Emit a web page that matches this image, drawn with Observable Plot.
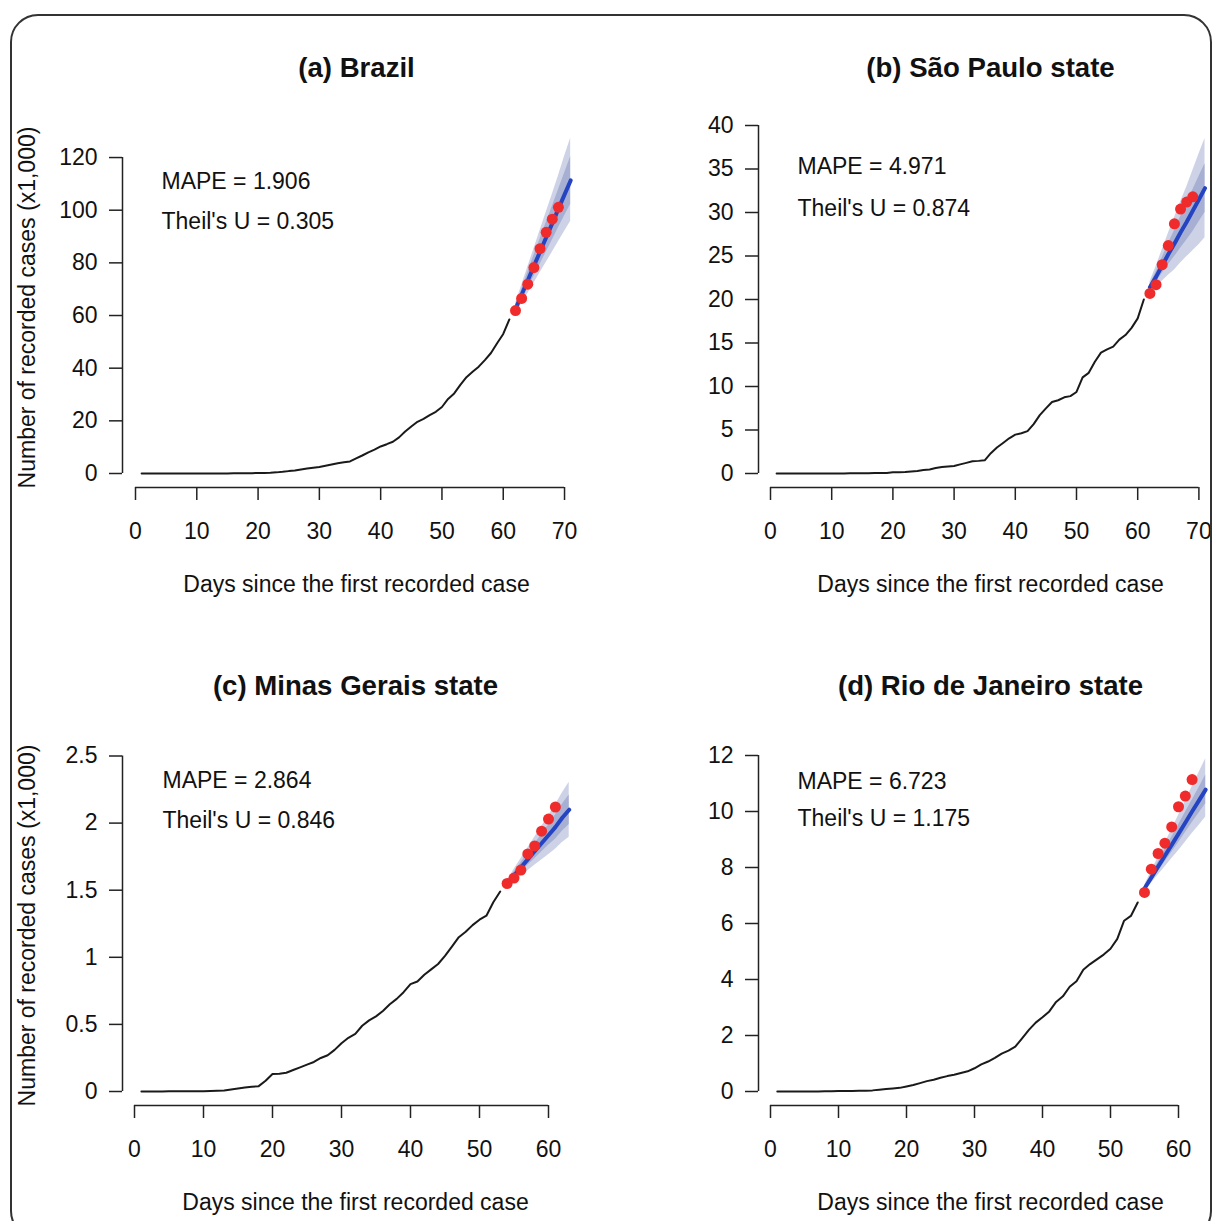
<!DOCTYPE html>
<html><head><meta charset="utf-8">
<script src="https://cdn.jsdelivr.net/npm/d3@7"></script>
<script src="https://cdn.jsdelivr.net/npm/@observablehq/plot@0.6"></script>
<style>
html,body{margin:0;padding:0;background:#fff;}
#page{position:relative;width:1213px;height:1221px;overflow:hidden;font-family:"Liberation Sans",Arial,sans-serif;background:#fff;}
#border{position:absolute;left:10px;top:14px;width:1202px;height:1225px;border:2px solid #333;border-radius:28px;box-sizing:border-box;z-index:5;pointer-events:none;}
</style></head>
<body><div id="page"><div id="border"></div></div>
<script>
// ---------- data (thousands of recorded cases) ----------
const titles = ["(a) Brazil", "(b) São Paulo state", "(c) Minas Gerais state", "(d) Rio de Janeiro state"];
const mapeLabels = ["MAPE = 1.906", "MAPE = 4.971", "MAPE = 2.864", "MAPE = 6.723"];
const theilLabels = ["Theil's U = 0.305", "Theil's U = 0.874", "Theil's U = 0.846", "Theil's U = 1.175"];
const xLabel = "Days since the first recorded case";
const yLabel = "Number of recorded cases (x1,000)";

const xTicks70 = [0, 10, 20, 30, 40, 50, 60, 70];
const xTicks60 = [0, 10, 20, 30, 40, 50, 60];
const yTicksBR = [0, 20, 40, 60, 80, 100, 120];
const yTicksSP = [0, 5, 10, 15, 20, 25, 30, 35, 40];
const yTicksMG = [0, 0.5, 1, 1.5, 2, 2.5];
const yTicksRJ = [0, 2, 4, 6, 8, 10, 12];

// observed series, day 1 onwards
const obsBR = [0, 0.001, 0.001, 0.001, 0.002, 0.002, 0.002, 0.002, 0.003, 0.008, 0.013, 0.019, 0.025, 0.025, 0.034, 0.052, 0.077, 0.098, 0.121, 0.200, 0.234, 0.291, 0.428, 0.621, 0.904, 1.128, 1.546, 1.891, 2.201, 2.433, 2.915, 3.417, 3.904, 4.256, 4.579, 5.717, 6.836, 8.044, 9.056, 10.278, 11.130, 12.056, 13.717, 15.927, 17.857, 19.638, 20.727, 22.169, 23.430, 25.262, 28.320, 30.425, 33.682, 36.599, 38.654, 40.581, 43.079, 45.757, 49.492, 52.995, 58.509];
const obsSP = [0, 0.001, 0.001, 0.001, 0.002, 0.002, 0.002, 0.002, 0.003, 0.006, 0.010, 0.013, 0.016, 0.016, 0.019, 0.030, 0.046, 0.056, 0.065, 0.136, 0.152, 0.164, 0.240, 0.286, 0.396, 0.459, 0.631, 0.745, 0.810, 0.862, 1.052, 1.223, 1.406, 1.451, 1.517, 2.339, 2.981, 3.506, 4.048, 4.466, 4.620, 4.866, 5.682, 6.708, 7.480, 8.216, 8.419, 8.755, 8.895, 9.371, 11.043, 11.568, 12.841, 13.894, 14.267, 14.580, 15.385, 15.914, 16.740, 17.826, 20.004];
const obsMG = [0, 0, 0, 0, 0.001, 0.001, 0.001, 0.001, 0.001, 0.002, 0.003, 0.005, 0.008, 0.015, 0.022, 0.030, 0.035, 0.040, 0.080, 0.130, 0.133, 0.140, 0.160, 0.180, 0.200, 0.220, 0.250, 0.270, 0.310, 0.360, 0.400, 0.430, 0.490, 0.530, 0.560, 0.600, 0.650, 0.690, 0.740, 0.800, 0.820, 0.870, 0.910, 0.950, 1.010, 1.080, 1.150, 1.190, 1.240, 1.280, 1.310, 1.410, 1.490];
const obsRJ = [0, 0, 0.001, 0.001, 0.001, 0.002, 0.003, 0.008, 0.013, 0.016, 0.016, 0.019, 0.024, 0.031, 0.040, 0.065, 0.090, 0.110, 0.130, 0.180, 0.230, 0.300, 0.370, 0.420, 0.490, 0.550, 0.600, 0.660, 0.720, 0.830, 0.970, 1.070, 1.200, 1.350, 1.460, 1.600, 1.900, 2.200, 2.460, 2.650, 2.860, 3.200, 3.400, 3.740, 3.940, 4.350, 4.550, 4.720, 4.890, 5.100, 5.450, 6.100, 6.270, 6.750];

// recorded cases in the test window (red points)
const actDaysBR = [62, 63, 64, 65, 66, 67, 68, 69];
const actBR = [61.9, 66.5, 71.9, 78.2, 85.4, 91.6, 96.6, 101.1];
const actDaysSP = [62, 63, 64, 65, 66, 67, 68, 69];
const actSP = [20.7, 21.7, 24.0, 26.2, 28.7, 30.4, 31.2, 31.8];
const actDaysMG = [54, 55, 56, 57, 58, 59, 60, 61];
const actMG = [1.55, 1.59, 1.65, 1.77, 1.83, 1.94, 2.03, 2.12];
const actDaysRJ = [55, 56, 57, 58, 59, 60, 61, 62];
const actRJ = [7.11, 7.94, 8.50, 8.87, 9.45, 10.17, 10.55, 11.14];

// forecasts with 80% and 95% bands
const fcDaysBR = [62, 63, 64, 65, 66, 67, 68, 69, 70, 71];
const fcBR   = [62.5, 67.9, 73.3, 78.8, 84.2, 89.6, 95.0, 100.5, 105.9, 111.3];
const hi95BR = [64.5, 71.4, 78.3, 85.3, 92.2, 99.1, 106.0, 113.0, 120.4, 127.3];
const hi80BR = [63.5, 69.9, 76.3, 82.8, 89.0, 95.2, 101.4, 107.7, 114.0, 120.3];
const lo80BR = [61.5, 65.9, 70.3, 74.8, 79.4, 84.0, 88.6, 93.3, 97.8, 102.3];
const lo95BR = [60.5, 64.4, 68.3, 72.3, 76.2, 80.1, 84.0, 88.0, 91.9, 95.8];

const fcDaysSP = [62, 63, 64, 65, 66, 67, 68, 69, 70, 71];
const fcSP   = [21.4, 22.6, 23.9, 25.2, 26.4, 27.7, 28.9, 30.2, 31.5, 32.8];
const hi95SP = [22.0, 23.8, 25.7, 27.6, 29.4, 31.2, 32.9, 34.8, 36.7, 38.5];
const hi80SP = [21.7, 23.2, 24.8, 26.4, 27.9, 29.5, 31.0, 32.6, 34.1, 35.6];
const lo80SP = [21.1, 22.0, 23.0, 24.0, 24.9, 25.9, 26.8, 27.8, 28.9, 30.0];
const lo95SP = [20.8, 21.4, 22.1, 22.8, 23.4, 24.2, 24.9, 25.6, 26.3, 27.1];

const fcDaysMG = [54, 55, 56, 57, 58, 59, 60, 61, 62, 63];
const fcMG   = [1.55, 1.61, 1.67, 1.73, 1.79, 1.85, 1.91, 1.97, 2.04, 2.10];
const hi95MG = [1.57, 1.655, 1.735, 1.815, 1.895, 1.975, 2.055, 2.135, 2.225, 2.305];
const hi80MG = [1.56, 1.635, 1.705, 1.775, 1.845, 1.915, 1.985, 2.06, 2.14, 2.21];
const lo80MG = [1.54, 1.585, 1.635, 1.685, 1.735, 1.785, 1.835, 1.88, 1.94, 1.99];
const lo95MG = [1.53, 1.565, 1.605, 1.645, 1.685, 1.725, 1.765, 1.805, 1.855, 1.895];

const fcDaysRJ = [55, 56, 57, 58, 59, 60, 61, 62, 63, 64];
const fcRJ   = [7.25, 7.64, 8.03, 8.42, 8.81, 9.20, 9.60, 10.00, 10.39, 10.78];
const hi95RJ = [7.36, 7.86, 8.36, 8.86, 9.36, 9.86, 10.37, 10.88, 11.38, 11.88];
const hi80RJ = [7.31, 7.75, 8.19, 8.64, 9.08, 9.52, 9.96, 10.40, 10.84, 11.30];
const lo80RJ = [7.19, 7.53, 7.87, 8.20, 8.54, 8.88, 9.24, 9.60, 9.94, 10.28];
const lo95RJ = [7.15, 7.44, 7.73, 8.02, 8.31, 8.60, 8.90, 9.21, 9.50, 9.80];

// ---------- layout (page pixels) ----------
const panels = [
  {i:0, L:0, T:0, W:606, H:612, fL:122, fR:590, fT:127, fB:487, x0:135, pxX:6.129, y0:473, pxY:2.633,
   xTicks:xTicks70, yTicks:yTicksBR, obs:obsBR, actDays:actDaysBR, act:actBR,
   fcDays:fcDaysBR, fc:fcBR, hi95:hi95BR, hi80:hi80BR, lo80:lo80BR, lo95:lo95BR,
   titleY:68, mX:161, mY1:181, mY2:221, showY:true},
  {i:1, L:606, T:0, W:620, H:612, fL:758, fR:1222, fT:123, fB:487, x0:770, pxX:6.12, y0:473, pxY:8.7,
   xTicks:xTicks70, yTicks:yTicksSP, obs:obsSP, actDays:actDaysSP, act:actSP,
   fcDays:fcDaysSP, fc:fcSP, hi95:hi95SP, hi80:hi80SP, lo80:lo80SP, lo95:lo95SP,
   titleY:68, mX:797, mY1:166, mY2:208, showY:false},
  {i:2, L:0, T:612, W:606, H:609, fL:122, fR:588, fT:745, fB:1105, x0:134, pxX:6.9, y0:1091, pxY:134.2,
   xTicks:xTicks60, yTicks:yTicksMG, obs:obsMG, actDays:actDaysMG, act:actMG,
   fcDays:fcDaysMG, fc:fcMG, hi95:hi95MG, hi80:hi80MG, lo80:lo80MG, lo95:lo95MG,
   titleY:686, mX:162, mY1:780, mY2:820, showY:true},
  {i:3, L:606, T:612, W:620, H:609, fL:758, fR:1222, fT:745, fB:1105, x0:770, pxX:6.8, y0:1091, pxY:28,
   xTicks:xTicks60, yTicks:yTicksRJ, obs:obsRJ, actDays:actDaysRJ, act:actRJ,
   fcDays:fcDaysRJ, fc:fcRJ, hi95:hi95RJ, hi80:hi80RJ, lo80:lo80RJ, lo95:lo95RJ,
   titleY:686, mX:797, mY1:781, mY2:818, showY:false}
];

const page = document.getElementById("page");
const axisColor = "#222";

for (const p of panels) {
  const xd = [(p.fL - p.x0) / p.pxX, (p.fR - p.x0) / p.pxX];
  const yd = [(p.y0 - p.fB) / p.pxY, (p.y0 - p.fT) / p.pxY];
  const obs = p.obs.map((v, i) => ({day: i + 1, v}));
  const act = p.actDays.map((d, i) => ({day: d, v: p.act[i]}));
  const fc = p.fcDays.map((d, i) => ({day: d, mean: p.fc[i], hi95: p.hi95[i], hi80: p.hi80[i], lo80: p.lo80[i], lo95: p.lo95[i]}));

  const marks = [
    Plot.areaY(fc, {x: "day", y1: "lo95", y2: "hi95", fill: "#cdd2e6"}),
    Plot.areaY(fc, {x: "day", y1: "lo80", y2: "hi80", fill: "#a7b0d3"}),
    Plot.line(obs, {x: "day", y: "v", stroke: "#1a1a1a", strokeWidth: 2}),
    Plot.line(fc, {x: "day", y: "mean", stroke: "#2444c2", strokeWidth: 4}),
    Plot.dot(act, {x: "day", y: "v", r: 5.5, fill: "#ef2b2b", stroke: "none"}),
    Plot.ruleY([yd[0]], {x1: p.xTicks[0], x2: p.xTicks[p.xTicks.length - 1], stroke: axisColor, strokeWidth: 1.5}),
    Plot.ruleX([xd[0]], {y1: p.yTicks[0], y2: p.yTicks[p.yTicks.length - 1], stroke: axisColor, strokeWidth: 1.5}),
    Plot.axisX(p.xTicks, {anchor: "bottom", tickSize: 13, tickPadding: 22, tickFormat: d => String(d), label: null, stroke: axisColor, strokeWidth: 1.5}),
    Plot.axisY(p.yTicks, {anchor: "left", tickSize: 13, tickPadding: 12, tickFormat: d => String(d), label: null, stroke: axisColor, strokeWidth: 1.5}),
    Plot.text([titles[p.i]], {text: d => d, frameAnchor: "top", dy: p.titleY - p.fT, fontSize: 27.6, fontWeight: "bold", lineAnchor: "middle"}),
    Plot.text([xLabel], {text: d => d, frameAnchor: "bottom", dy: 97, lineAnchor: "middle"}),
    Plot.text([mapeLabels[p.i]], {text: d => d, frameAnchor: "top-left", dx: p.mX - p.fL, dy: p.mY1 - p.fT, textAnchor: "start", lineAnchor: "middle"}),
    Plot.text([theilLabels[p.i]], {text: d => d, frameAnchor: "top-left", dx: p.mX - p.fL, dy: p.mY2 - p.fT, textAnchor: "start", lineAnchor: "middle"})
  ];
  if (p.showY) marks.push(Plot.text([yLabel], {text: d => d, frameAnchor: "left", dx: 27 - p.fL, rotate: -90, textAnchor: "middle", lineAnchor: "middle"}));

  const svg = Plot.plot({
    width: p.W, height: p.H,
    marginLeft: p.fL - p.L, marginRight: (p.L + p.W) - p.fR,
    marginTop: p.fT - p.T, marginBottom: (p.T + p.H) - p.fB,
    x: {type: "linear", domain: xd},
    y: {type: "linear", domain: yd},
    style: {fontSize: "23px", fontFamily: "'Liberation Sans', Arial, sans-serif", color: "#111", background: "none", overflow: "visible", maxWidth: "none"},
    marks
  });
  svg.style.position = "absolute";
  svg.style.left = p.L + "px";
  svg.style.top = p.T + "px";
  page.appendChild(svg);
}
</script></body></html>
